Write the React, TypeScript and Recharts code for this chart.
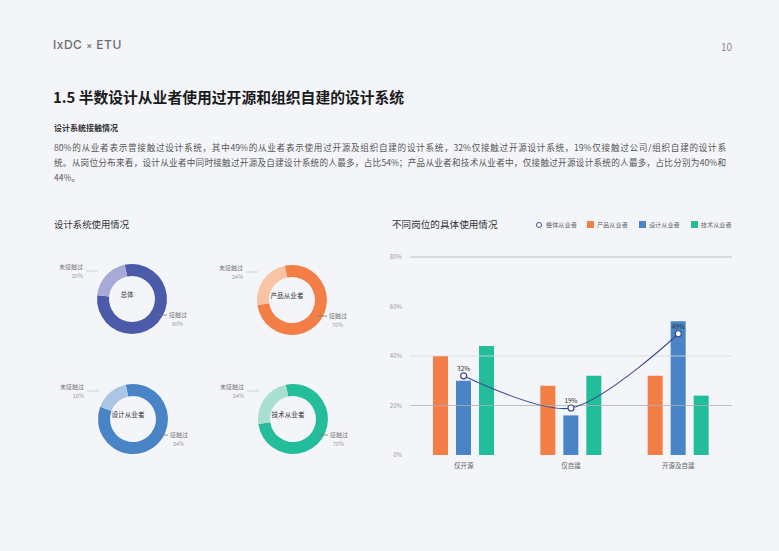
import React from 'react';
import { PieChart, Pie, Cell, ComposedChart, Bar, Line, XAxis, YAxis, ReferenceLine, LabelList } from 'recharts';

const categories = ['仅开源', '仅自建', '开源及自建'];
const overallSeries = [32, 19, 49];
const productSeries = [40, 28, 32];
const designSeries = [30, 16, 54];
const techSeries = [44, 32, 24];
const yTicks = [0, 20, 40, 60, 80];
const gridValues = [80, 40, 20];

const donutNames = ['总体', '产品从业者', '设计从业者', '技术从业者'];
const usedValues = [80, 76, 84, 76];
const unusedValues = [20, 24, 16, 24];
const donutSliceNames = ['接触过', '未接触过'];

const seriesNames = ['整体从业者', '产品从业者', '设计从业者', '技术从业者'];
const seriesColors = ['#3b4c8e', '#f47f46', '#4884c6', '#22bd9b'];
const donutColors = [
  ['#4b5ba9', '#a7aad6'],
  ['#f47f46', '#f8c4a4'],
  ['#4884c6', '#abc5e4'],
  ['#24bd9c', '#a8dfd0'],
];
const donutCenters = [
  [87, 54],
  [247, 55],
  [88, 174],
  [248, 174],
];

const barData = categories.map((c, i) => ({
  name: c,
  overall: overallSeries[i],
  product: productSeries[i],
  design: designSeries[i],
  tech: techSeries[i],
}));

const FONT = '"Noto Sans CJK SC", "Noto Sans", sans-serif';

// ECharts-like smooth curve
function smoothCurve(context: any) {
  let pts: number[][] = [];
  const smooth = 0.3;
  return {
    areaStart() {},
    areaEnd() {},
    lineStart() {
      pts = [];
    },
    point(x: number, y: number) {
      pts.push([+x, +y]);
    },
    lineEnd() {
      const n = pts.length;
      if (!n) return;
      context.moveTo(pts[0][0], pts[0][1]);
      if (n === 1) return;
      const cpsOut: number[][] = [];
      const cpsIn: number[][] = [];
      for (let i = 0; i < n; i++) {
        const p = pts[i];
        if (i === 0 || i === n - 1) {
          cpsOut[i] = p;
          cpsIn[i] = p;
          continue;
        }
        const prev = pts[i - 1];
        const next = pts[i + 1];
        const vx = next[0] - prev[0];
        const vy = next[1] - prev[1];
        const lp = Math.hypot(p[0] - prev[0], p[1] - prev[1]);
        const ln = Math.hypot(next[0] - p[0], next[1] - p[1]);
        const r = lp + ln > 0 ? ln / (lp + ln) : 0.5;
        cpsOut[i] = [p[0] + vx * smooth * r, p[1] + vy * smooth * r];
        cpsIn[i] = [p[0] - vx * smooth * (1 - r), p[1] - vy * smooth * (1 - r)];
      }
      for (let i = 0; i < n - 1; i++) {
        const a = cpsOut[i];
        const b = cpsIn[i + 1];
        const e = pts[i + 1];
        context.bezierCurveTo(a[0], a[1], b[0], b[1], e[0], e[1]);
      }
    },
  };
}

function makeDonutLabel(di: number) {
  const [cx, cy] = donutCenters[di];
  return (props: any) => {
    const idx = props.index;
    if (idx === 0) {
      return (
        <g>
          <line x1={cx + 30} y1={cy + 21} x2={cx + 40} y2={cy + 21} stroke="#777" strokeWidth={0.8} />
          <text x={cx + 42} y={cy + 21} fontSize={6} fill="#777" fontFamily={FONT} dominantBaseline="middle">
            {donutSliceNames[0]}
          </text>
          <text x={cx + 45} y={cy + 30} fontSize={5.5} fill="#999" fontFamily={FONT} dominantBaseline="middle">
            {usedValues[di]}%
          </text>
          <text x={cx} y={cy} fontSize={6.6} fill="#333" fontFamily={FONT} textAnchor="middle" dominantBaseline="central">
            {donutNames[di]}
          </text>
        </g>
      );
    }
    return (
      <g>
        <line x1={cx - 41} y1={cy - 23} x2={cx - 29} y2={cy - 23} stroke="#c8c8c8" strokeWidth={0.8} />
        <text x={cx - 44} y={cy - 27} fontSize={6} fill="#777" fontFamily={FONT} textAnchor="end" dominantBaseline="middle">
          {donutSliceNames[1]}
        </text>
        <text x={cx - 44} y={cy - 18} fontSize={5.5} fill="#999" fontFamily={FONT} textAnchor="end" dominantBaseline="middle">
          {unusedValues[di]}%
        </text>
      </g>
    );
  };
}

export default function App() {
  return (
    <div
      style={{
        position: 'fixed',
        left: 0,
        top: 0,
        width: 779,
        height: 551,
        background: '#f4f5f9',
        overflow: 'hidden',
        fontFamily: FONT,
      }}
    >
      {/* header */}
      <div style={{ position: 'absolute', left: 53, top: 37, fontSize: 12, color: '#6e6e6e', letterSpacing: 0.5, fontFamily: '"Inter", "Noto Sans", sans-serif', fontWeight: 500 }}>
        IxDC <span style={{ fontSize: 9 }}>×</span> ETU
      </div>
      <div style={{ position: 'absolute', left: 721, top: 39, fontSize: 10, color: '#888' }}>10</div>

      {/* title */}
      <div style={{ position: 'absolute', left: 53, top: 86, fontSize: 14.8, fontWeight: 700, color: '#1a1a1a', whiteSpace: 'nowrap' }}>
        1.5 半数设计从业者使用过开源和组织自建的设计系统
      </div>
      <div style={{ position: 'absolute', left: 54, top: 122, fontSize: 8, fontWeight: 700, color: '#333', whiteSpace: 'nowrap' }}>
        设计系统接触情况
      </div>
      <div style={{ position: 'absolute', left: 54, top: 140, width: 672, fontSize: 8.6, color: '#555', lineHeight: '15px' }}>
        <div style={{ whiteSpace: 'nowrap', textAlign: 'justify', textAlignLast: 'justify' } as any}>
          80%的从业者表示曾接触过设计系统，其中49%的从业者表示使用过开源及组织自建的设计系统，32%仅接触过开源设计系统，19%仅接触过公司/组织自建的设计系
        </div>
        <div style={{ whiteSpace: 'nowrap', textAlign: 'justify', textAlignLast: 'justify' } as any}>
          统。从岗位分布来看，设计从业者中同时接触过开源及自建设计系统的人最多，占比54%；产品从业者和技术从业者中，仅接触过开源设计系统的人最多，占比分别为40%和
        </div>
        <div>44%。</div>
      </div>

      {/* section titles */}
      <div style={{ position: 'absolute', left: 54, top: 217, fontSize: 9.4, color: '#333', whiteSpace: 'nowrap' }}>设计系统使用情况</div>
      <div style={{ position: 'absolute', left: 392, top: 217, fontSize: 9.6, color: '#333', whiteSpace: 'nowrap' }}>不同岗位的具体使用情况</div>

      {/* legend */}
      <div style={{ position: 'absolute', left: 536, top: 220, display: 'flex', alignItems: 'center', fontSize: 6.2, color: '#666', whiteSpace: 'nowrap' }}>
        {seriesNames.map((n, i) => (
          <div key={n} style={{ display: 'flex', alignItems: 'center', marginRight: i === 0 ? 10 : 11 }}>
            {i === 0 ? (
              <div style={{ width: 4, height: 4, borderRadius: '50%', border: `1.2px solid ${seriesColors[0]}`, background: '#fff', marginRight: 4 }} />
            ) : (
              <div style={{ width: 7, height: 7, background: seriesColors[i], marginRight: 3 }} />
            )}
            <span>{n}</span>
          </div>
        ))}
      </div>

      {/* donuts */}
      <div style={{ position: 'absolute', left: 40, top: 240 }}>
        <PieChart width={340} height={240}>
          {donutNames.map((name, di) => (
            <Pie
              key={name}
              data={[
                { name: donutSliceNames[0], value: usedValues[di] },
                { name: donutSliceNames[1], value: unusedValues[di] },
              ]}
              dataKey="value"
              cx={donutCenters[di][0]}
              cy={donutCenters[di][1]}
              innerRadius={23}
              outerRadius={35}
              startAngle={102}
              endAngle={-258}
              stroke="none"
              isAnimationActive={false}
              labelLine={false}
              label={makeDonutLabel(di)}
            >
              <Cell fill={donutColors[di][0]} />
              <Cell fill={donutColors[di][1]} />
            </Pie>
          ))}
        </PieChart>
      </div>

      {/* bar chart */}
      <div style={{ position: 'absolute', left: 385, top: 240 }}>
        <ComposedChart width={394} height={240} data={barData} margin={{ top: 17, right: 47, bottom: 5, left: 0 }} barGap={8}>
          <XAxis
            dataKey="name"
            axisLine={false}
            tickLine={false}
            height={20}
            tick={{ fontSize: 6.5, fill: '#666', fontFamily: FONT }}
            tickMargin={2}
          />
          <YAxis
            domain={[0, 80]}
            ticks={yTicks}
            width={25}
            axisLine={false}
            tickLine={false}
            tickFormatter={(v: number) => `${v}%`}
            tick={{ fontSize: 6, fill: '#999', fontFamily: FONT }}
          />
          {gridValues.map((g, i) => (
            <ReferenceLine key={g} y={g} stroke={i === 1 ? '#d6d7df' : '#aeaeb8'} strokeWidth={0.8} />
          ))}
          <Bar dataKey="product" fill={seriesColors[1]} barSize={15} isAnimationActive={false} />
          <Bar dataKey="design" fill={seriesColors[2]} barSize={15} isAnimationActive={false} />
          <Bar dataKey="tech" fill={seriesColors[3]} barSize={15} isAnimationActive={false} />
          <Line
            dataKey="overall"
            type={smoothCurve as any}
            stroke={seriesColors[0]}
            strokeWidth={1.1}
            dot={{ r: 3, fill: '#fff', stroke: seriesColors[0], strokeWidth: 1.2 }}
            isAnimationActive={false}
          >
            <LabelList dataKey="overall" position="top" offset={5} formatter={(v: any) => `${v}%`} style={{ fontSize: 6.5, fill: '#333', fontFamily: FONT }} />
          </Line>
        </ComposedChart>
      </div>
    </div>
  );
}
